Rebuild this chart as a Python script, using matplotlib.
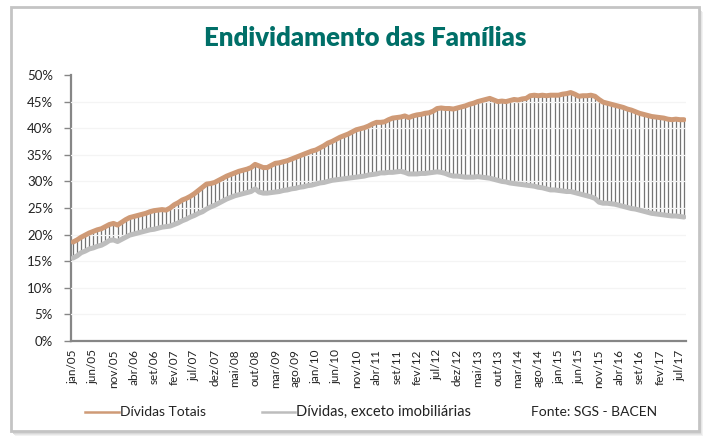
import matplotlib
matplotlib.use("Agg")
import matplotlib.pyplot as plt
from matplotlib.patches import Rectangle
from matplotlib.lines import Line2D

plt.rcParams['font.family'] = ['Lato', 'DejaVu Sans']

meses = ['jan', 'fev', 'mar', 'abr', 'mai', 'jun', 'jul', 'ago', 'set', 'out', 'nov', 'dez']
categorias = [f"{m}/{a:02d}" for a in range(5, 18) for m in meses][:152]

dividas_totais = [
    18.6, 19.0, 19.5, 19.9, 20.3, 20.6, 20.9, 21.1, 21.5, 21.9, 22.1, 21.8,  # 2005
    22.3, 22.8, 23.2, 23.4, 23.6, 23.8, 24.0, 24.3, 24.5, 24.6, 24.7, 24.6,  # 2006
    25.0, 25.6, 26.0, 26.5, 26.8, 27.2, 27.7, 28.3, 28.9, 29.5, 29.6, 29.8,  # 2007
    30.2, 30.6, 31.0, 31.3, 31.6, 31.9, 32.1, 32.3, 32.6, 33.2, 32.9, 32.6,  # 2008
    32.6, 33.0, 33.4, 33.5, 33.7, 33.9, 34.2, 34.5, 34.8, 35.1, 35.4, 35.7,  # 2009
    35.9, 36.3, 36.7, 37.2, 37.5, 37.9, 38.3, 38.6, 38.9, 39.3, 39.7, 39.9,  # 2010
    40.1, 40.4, 40.8, 41.1, 41.1, 41.2, 41.6, 41.9, 42.0, 42.1, 42.3, 42.0,  # 2011
    42.3, 42.5, 42.6, 42.8, 42.9, 43.2, 43.7, 43.8, 43.7, 43.7, 43.6, 43.8,  # 2012
    44.0, 44.2, 44.5, 44.7, 45.0, 45.2, 45.4, 45.6, 45.3, 45.0, 45.1, 45.0,  # 2013
    45.2, 45.4, 45.3, 45.5, 45.6, 46.1, 46.2, 46.1, 46.2, 46.1, 46.2, 46.2,  # 2014
    46.2, 46.4, 46.5, 46.7, 46.4, 46.0, 46.1, 46.1, 46.2, 46.0, 45.4, 44.9,  # 2015
    44.7, 44.5, 44.3, 44.1, 43.9, 43.6, 43.4, 43.1, 42.8, 42.6, 42.4, 42.2,  # 2016
    42.1, 42.0, 41.9, 41.7, 41.6, 41.7, 41.6, 41.6,                          # 2017
]

dividas_exceto_imob = [
    15.6, 16.0, 16.6, 16.9, 17.3, 17.5, 17.8, 18.0, 18.4, 18.9, 19.0, 18.7,  # 2005
    19.1, 19.5, 19.9, 20.1, 20.3, 20.5, 20.7, 20.9, 21.0, 21.2, 21.4, 21.5,  # 2006
    21.6, 21.9, 22.2, 22.6, 22.9, 23.3, 23.6, 24.0, 24.3, 24.8, 25.2, 25.5,  # 2007
    25.9, 26.3, 26.7, 27.0, 27.3, 27.5, 27.7, 27.9, 28.1, 28.6, 28.0, 27.8,  # 2008
    27.8, 27.9, 28.0, 28.1, 28.3, 28.4, 28.6, 28.7, 28.9, 29.0, 29.2, 29.3,  # 2009
    29.5, 29.7, 29.8, 30.0, 30.2, 30.3, 30.4, 30.5, 30.6, 30.7, 30.8, 30.9,  # 2010
    31.0, 31.2, 31.3, 31.4, 31.6, 31.6, 31.7, 31.7, 31.8, 31.9, 31.7, 31.4,  # 2011
    31.4, 31.4, 31.5, 31.5, 31.6, 31.7, 31.8, 31.7, 31.5, 31.2, 31.0, 31.0,  # 2012
    30.9, 30.8, 30.8, 30.8, 30.9, 30.8, 30.7, 30.6, 30.4, 30.2, 30.0, 29.9,  # 2013
    29.7, 29.6, 29.5, 29.4, 29.3, 29.2, 29.1, 28.9, 28.8, 28.6, 28.4, 28.4,  # 2014
    28.3, 28.2, 28.1, 28.1, 27.9, 27.7, 27.5, 27.3, 27.1, 26.8, 26.1, 25.9,  # 2015
    25.9, 25.8, 25.7, 25.5, 25.3, 25.1, 24.9, 24.8, 24.6, 24.4, 24.2, 24.0,  # 2016
    23.9, 23.8, 23.7, 23.6, 23.5, 23.5, 23.4, 23.3,                          # 2017
]

y_ticks = [0, 5, 10, 15, 20, 25, 30, 35, 40, 45, 50]
y_tick_labels = [f"{v}%" for v in y_ticks]

W, H = 705, 438
fig = plt.figure(figsize=(W / 100, H / 100), dpi=100)
fig.patch.set_facecolor('white')

# outer frame with soft shadow
for k, c in enumerate(['#f2f2f2', '#e6e6e6', '#d9d9d9']):
    fig.patches.append(Rectangle(((12 + 3 - k) / W, (438 - 436 + k) / H), 688 / W, 424 / H,
                                 transform=fig.transFigure, facecolor=c, edgecolor='none', zorder=0))
fig.patches.append(Rectangle((11 / W, (438 - 431) / H), 688 / W, 424 / H,
                             transform=fig.transFigure, facecolor='white', edgecolor='#c4c4c4',
                             linewidth=2.0, zorder=1))

ax = fig.add_axes([71 / W, 1 - 341 / H, (686 - 71) / W, (341 - 75) / H])
ax.set_zorder(2)
ax.patch.set_alpha(0)

n = len(categorias)
x = list(range(n))

ax.vlines(x, dividas_exceto_imob, dividas_totais, color='#747474', linewidth=0.9, zorder=2)
for v in y_ticks[1:-1]:
    ax.axhline(v, color='#f4f4f4', linewidth=0.9, zorder=3)
ax.plot(x, dividas_exceto_imob, color='#bdbdbd', linewidth=3.6, solid_capstyle='round', zorder=4)
ax.plot(x, dividas_totais, color='#cf9a76', linewidth=3.6, solid_capstyle='round', zorder=5)

ax.set_xlim(-0.5, n - 0.5)
ax.set_ylim(0, 50)
ax.set_yticks(y_ticks)
ax.set_yticklabels(y_tick_labels, fontsize=9.5, color='#222222')
ax.set_xticks(x[::5])
ax.set_xticklabels(categorias[::5], rotation=90, fontsize=8.5, color='#222222')
ax.tick_params(axis='x', length=0, pad=6)
ax.tick_params(axis='y', length=5, width=1, color='#868686', pad=8)

for s in ['top', 'right']:
    ax.spines[s].set_visible(False)
for s in ['left', 'bottom']:
    ax.spines[s].set_color('#868686')
    ax.spines[s].set_linewidth(1.6)

fig.text(365 / W, 1 - 38 / H, 'Endividamento das Famílias', ha='center', va='center',
         fontsize=18.5, fontweight='heavy', color='#006f68')

# legend
ly = 1 - 412 / H
fig.add_artist(Line2D([85 / W, 119 / W], [ly, ly], color='#cf9a76', linewidth=1.8))
fig.text(120 / W, ly, 'Dívidas Totais', ha='left', va='center', fontsize=10, color='#222222')
fig.add_artist(Line2D([262 / W, 295 / W], [ly, ly], color='#bdbdbd', linewidth=1.8))
fig.text(296 / W, ly, 'Dívidas, exceto imobiliárias', ha='left', va='center', fontsize=10.5, color='#222222')
fig.text(531 / W, ly, 'Fonte: SGS - BACEN', ha='left', va='center', fontsize=10, color='#222222')

fig.savefig('out.png', dpi=100, facecolor='white')
